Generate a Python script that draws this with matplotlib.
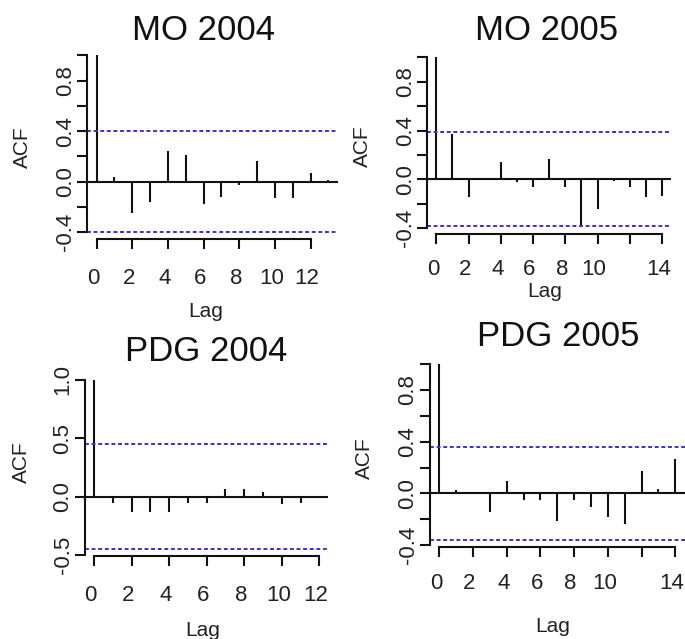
import numpy as np
import matplotlib
matplotlib.use("Agg")
import matplotlib.pyplot as plt
import matplotlib.transforms as mtransforms

plt.rcParams["font.family"] = ["Liberation Sans", "DejaVu Sans"]

# autocorrelation values, lag 0 .. max lag
mo2004 = [1.0, 0.04, -0.25, -0.164, 0.246, 0.214, -0.177, -0.119, -0.026, 0.161, -0.132, -0.13, 0.069, 0.013]
mo2005 = [1.0, 0.372, -0.148, 0.008, 0.145, -0.02, -0.066, 0.164, -0.066, -0.388, -0.243, -0.014, -0.066, -0.148, -0.137]
pdg2004 = [1.0, -0.057, -0.132, -0.132, -0.132, -0.05, -0.05, 0.07, 0.07, 0.037, -0.063, -0.05, 0.005]
pdg2005 = [1.0, 0.03, 0.013, -0.14, 0.095, -0.052, -0.052, -0.21, -0.052, -0.103, -0.18, -0.237, 0.175, 0.031, 0.263]

# confidence bounds (blue dashed)
clim = [0.40, 0.384, 0.45, 0.358]
titles = ["MO 2004", "MO 2005", "PDG 2004", "PDG 2005"]

xtick_mo04 = [0, 2, 4, 6, 8, 10, 12]
xtick_mo05 = [0, 2, 4, 6, 8, 10, 12, 14]
xlab_mo05 = ["0", "2", "4", "6", "8", "10", "", "14"]
ytick_mo = [-0.4, -0.2, 0.0, 0.2, 0.4, 0.6, 0.8, 1.0]
ylab_mo = ["-0.4", "", "0.0", "", "0.4", "", "0.8", ""]
ytick_pdg04 = [-0.5, 0.0, 0.5, 1.0]
ylab_pdg04 = ["-0.5", "0.0", "0.5", "1.0"]

W, H = 685, 639
fig = plt.figure(figsize=(W / 100, H / 100), dpi=100)

def px(x, y):
    return x / W, 1 - y / H

# layout in pixels: axes box, title, ACF label, Lag label, x tick pad
panels = [
    (mo2004, (87.4, 337.6, 48.4, 239.2), (204, 30), (22.5, 147), (206, 302), 13.5,
     xtick_mo04, [str(t) for t in xtick_mo04], ytick_mo, ylab_mo),
    (mo2005, (427.3, 671.0, 50.5, 233.5), (547, 30), (362, 146), (545, 282), 11.0,
     xtick_mo05, xlab_mo05, ytick_mo, ylab_mo),
    (pdg2004, (85.0, 328.3, 373.2, 556.0), (206, 351.5), (21, 462), (203, 621), 14.0,
     xtick_mo04, [str(t) for t in xtick_mo04], ytick_pdg04, ylab_pdg04),
    (pdg2005, (429.9, 684.7, 357.1, 546.8), (558, 336.5), (364.5, 458), (553, 617), 12.0,
     xtick_mo05, xlab_mo05, ytick_mo, ylab_mo),
]

shift = mtransforms.ScaledTranslation(-3.5 / 100, 0, fig.dpi_scale_trans)

for i, (acf, box, tpos, apos, lpos, xpad, xt, xl, yt, yl) in enumerate(panels):
    L, R, T, B = box
    ax = fig.add_axes([L / W, 1 - B / H, (R - L) / W, (B - T) / H])
    lags = np.arange(len(acf))
    ax.vlines(lags, 0, acf, color="#111111", lw=1.5)
    ax.axhline(0, color="#111111", lw=1.5)
    for c in (clim[i], -clim[i]):
        ln = ax.axhline(c, color="#3535d0", lw=1.4)
        ln.set_dashes([2.0, 1.4])
    # R style ranges: 4% extension
    n = len(acf) - 1
    ax.set_xlim(-0.04 * n, n * 1.04)
    lo = min(min(acf), -clim[i])
    hi = max(max(acf), clim[i])
    ax.set_ylim(lo - 0.04 * (hi - lo), hi + 0.04 * (hi - lo))
    ax.set_xticks(xt)
    ax.set_xticklabels(xl)
    ax.set_yticks(yt)
    ax.set_yticklabels(yl, rotation=90, va="center")
    for s in ("top", "right"):
        ax.spines[s].set_visible(False)
    ax.spines["left"].set_bounds(yt[0], yt[-1])
    ax.spines["bottom"].set_bounds(xt[0], xt[-1])
    for s in ("left", "bottom"):
        ax.spines[s].set_linewidth(1.5)
        ax.spines[s].set_color("#111111")
    ax.tick_params(axis="both", length=7.2, width=1.5, color="#111111",
                   labelsize=16, labelcolor="#222222")
    ax.tick_params(axis="x", pad=xpad)
    ax.tick_params(axis="y", pad=1)
    for lab in ax.get_xticklabels():
        lab.set_transform(lab.get_transform() + shift)
    ax.patch.set_visible(False)

    x, y = px(*tpos)
    fig.text(x, y, titles[i], fontsize=25, ha="center", va="center", color="#111111")
    x, y = px(*apos)
    fig.text(x, y, "ACF", fontsize=15, rotation=90, ha="center", va="center", color="#222222")
    x, y = px(*lpos)
    fig.text(x, y, "Lag", fontsize=15, ha="center", va="top", color="#222222")

fig.savefig("out.png", dpi=100)
